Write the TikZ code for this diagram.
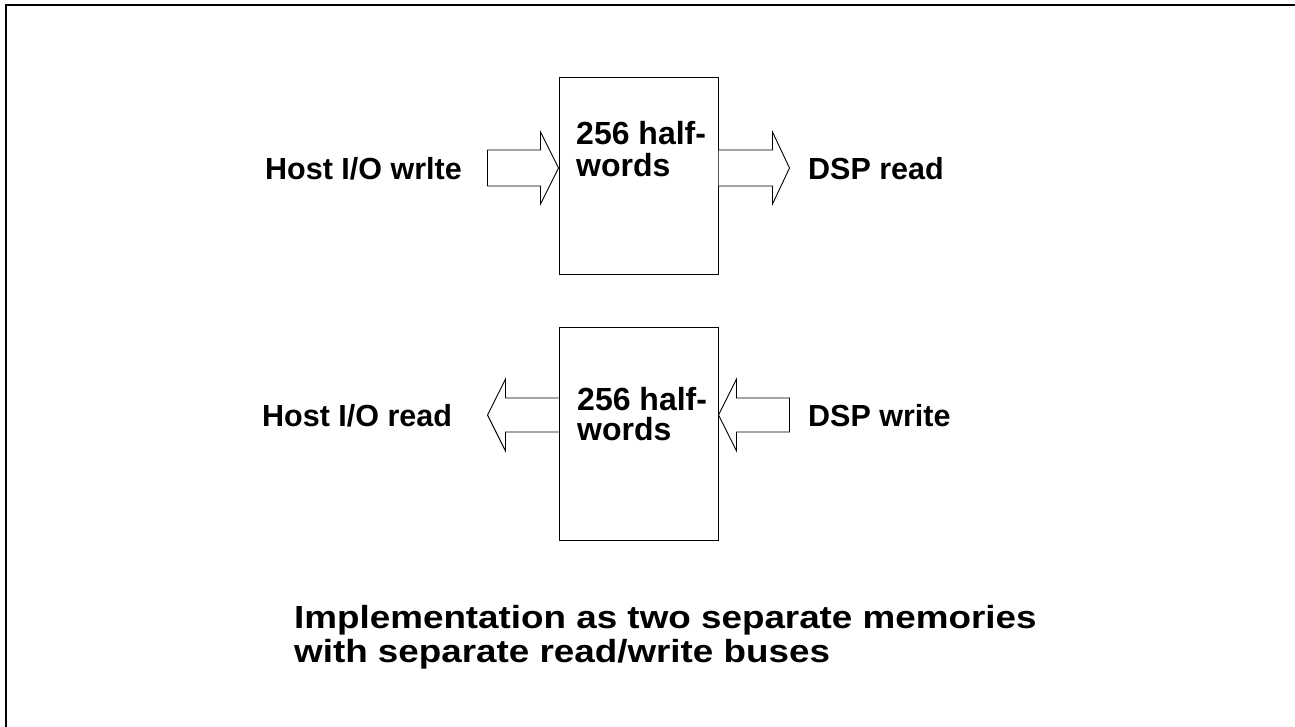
\documentclass[tikz,border=0pt]{standalone}
\usepackage{fontspec}
\setmainfont{Liberation Sans}
\newfontfamily\capfont[FakeStretch=1.15]{Liberation Sans}
\usetikzlibrary{calc}
\begin{document}
\begin{tikzpicture}[x=1pt,y=-1pt,
  lbl/.style={anchor=base west, inner sep=0pt, font=\fontsize{30.5}{32}\selectfont\bfseries},
  boxtxt/.style={anchor=base west, inner sep=0pt, font=\fontsize{32}{32}\selectfont\bfseries},
  captxt/.style={anchor=base west, inner sep=0pt, font=\capfont\fontsize{32}{32}\selectfont\bfseries},
  membox/.style={draw, line width=1pt, minimum width=159pt, inner sep=0pt},
  barrow/.style={draw, line width=0.9pt, fill=white, line join=miter}]
\useasboundingbox (0,0) rectangle (1295,726);
% frame
\draw[line width=2pt] (6,727) -- (6,5) -- (1296,5);
% memory boxes
\node[membox, minimum height=197pt] (m1) at (638.5,175.5) {};
\node[membox, minimum height=213pt] (m2) at (638.5,433.5) {};
% box texts
\node[boxtxt] (m1a) at (576,144) {256 half-};
\node[boxtxt] (m1b) at (576,176) {words};
\node[boxtxt] (m2a) at (577,410) {256 half-};
\node[boxtxt] (m2b) at (577,440) {words};
% labels
\node[lbl] (hw) at (265,179) {Host I/O wrlte};
\node[lbl] (dr) at (808,179) {DSP read};
\node[lbl] (hr) at (262,426) {Host I/O read};
\node[lbl] (dw) at (808,426) {DSP write};
% caption
\node[captxt] (c1) at (294,628) {Implementation as two separate memories};
\node[captxt] (c2) at (294,662) {with separate read/write buses};
% block arrows
% arrow 1: into m1 from left
\coordinate (t1) at (m1.west |- 0,168);
\draw[barrow] ($(t1)+(-71,-18)$) -- ($(t1)+(-18,-18)$) -- ($(t1)+(-18,-36)$) -- (t1)
  -- ($(t1)+(-18,36)$) -- ($(t1)+(-18,18)$) -- ($(t1)+(-71,18)$) -- cycle;
% arrow 2: out of m1 to right
\coordinate (s2) at (m1.east |- 0,168);
\draw[barrow] (s2) ++(0,-18) -- ++(54,0) -- ++(0,-18) -- ++(17,36) -- ++(-17,36) -- ++(0,-18) -- ++(-54,0);
% arrow 3: out of m2 to left
\coordinate (s3) at (m2.west |- 0,415);
\draw[barrow] (s3) ++(0,-17) -- ++(-53,0) -- ++(0,-19) -- ++(-18,36) -- ++(18,36) -- ++(0,-19) -- ++(53,0);
% arrow 4: into m2 from right
\coordinate (t4) at (m2.east |- 0,415);
\draw[barrow] (t4) -- ($(t4)+(18,-36)$) -- ($(t4)+(18,-17)$) -- ($(t4)+(71,-17)$) -- ($(t4)+(71,17)$)
  -- ($(t4)+(18,17)$) -- ($(t4)+(18,36)$) -- cycle;
\end{tikzpicture}
\end{document}
